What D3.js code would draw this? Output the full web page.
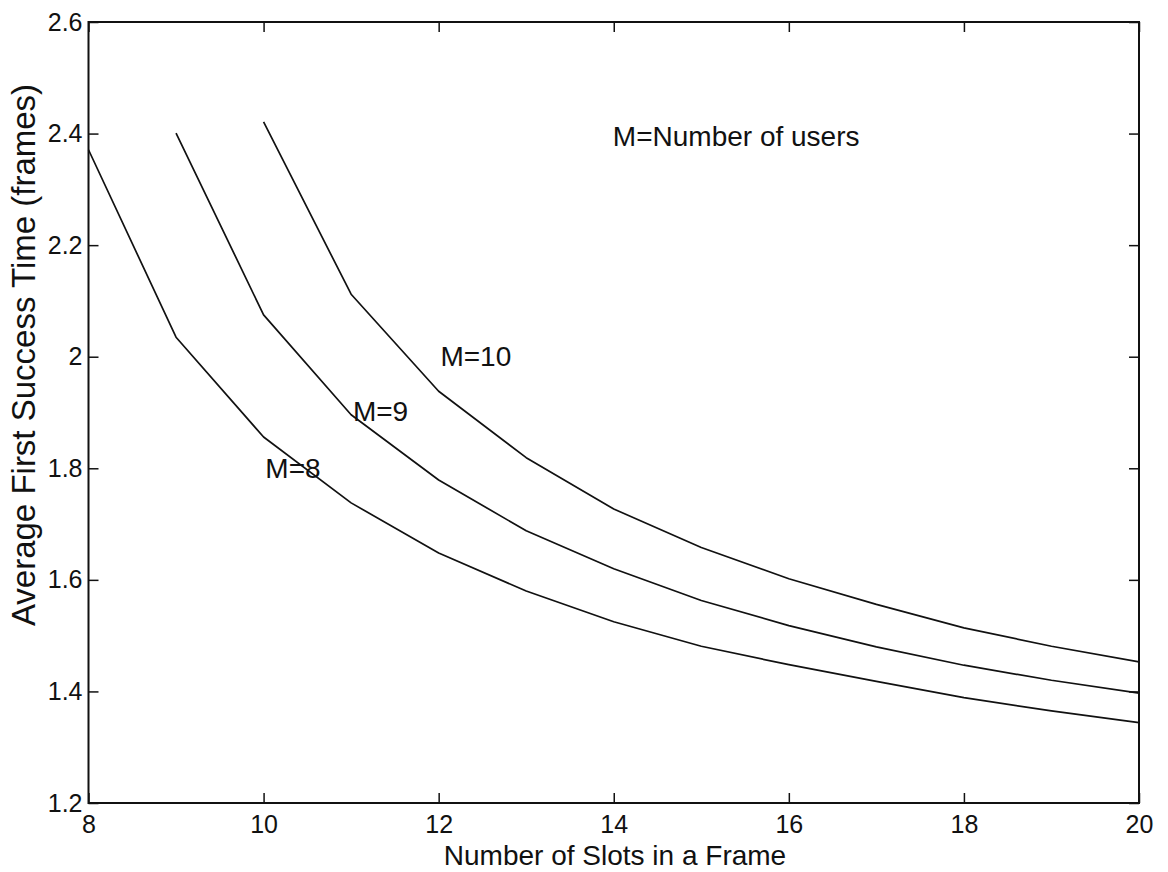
<!DOCTYPE html>
<html>
<head>
<meta charset="utf-8">
<script src="https://cdn.jsdelivr.net/npm/d3@7/dist/d3.min.js"></script>
<style>
  html, body { margin: 0; padding: 0; background: #fff; }
  svg { display: block; }
  text { font-family: "Liberation Sans", Arial, Helvetica, sans-serif; fill: #111; }
</style>
</head>
<body>
<svg id="chart" width="1168" height="872"></svg>
<script>
// Average first success time vs. number of slots, for M = 8, 9, 10 users
const slots = [8, 9, 10, 11, 12, 13, 14, 15, 16, 17, 18, 19, 20];
const timeM8  = [2.371, 2.035, 1.856, 1.738, 1.648, 1.580, 1.525, 1.481, 1.448, 1.418, 1.389, 1.365, 1.344];
const timeM9  = [2.401, 2.075, 1.896, 1.779, 1.688, 1.620, 1.563, 1.518, 1.480, 1.447, 1.420, 1.397];
const timeM10 = [2.421, 2.112, 1.938, 1.819, 1.727, 1.658, 1.602, 1.556, 1.514, 1.481, 1.453];
const seriesNames = ["M=8", "M=9", "M=10"];
const xTicks = [8, 10, 12, 14, 16, 18, 20];
const yTicks = [1.2, 1.4, 1.6, 1.8, 2, 2.2, 2.4, 2.6];
const xTitle = "Number of Slots in a Frame";
const yTitle = "Average First Success Time (frames)";
const note = "M=Number of users";

const svg = d3.select("#chart");
const plotL = 88.5, plotR = 1139, plotT = 22, plotB = 803;

const x = d3.scaleLinear().domain([8, 20]).range([plotL, plotR]);
const y = d3.scaleLinear().domain([1.2, 2.6]).range([plotB, plotT]);

// label anchors (data coordinates) for each curve
const series = [
  { name: seriesNames[0], xs: slots.slice(0), ys: timeM8,  labelAt: [10.02, 1.783] },
  { name: seriesNames[1], xs: slots.slice(1), ys: timeM9,  labelAt: [11.02, 1.884] },
  { name: seriesNames[2], xs: slots.slice(2), ys: timeM10, labelAt: [12.02, 1.983] }
];

const line = d3.line().x(d => x(d[0])).y(d => y(d[1]));

// curves
svg.append("g").selectAll("path").data(series).join("path")
  .attr("d", s => line(s.xs.map((v, i) => [v, s.ys[i]])))
  .attr("fill", "none")
  .attr("stroke", "#111")
  .attr("stroke-width", 1.7)
  .attr("stroke-linejoin", "round");

// axes with inward ticks on all four sides
const fmt = d => String(+d.toFixed(1));
const tickLen = 10;
const tickFont = 25;
const labelFont = 28;

const gB = svg.append("g").attr("transform", `translate(0,${plotB})`)
  .call(d3.axisBottom(x).tickValues(xTicks).tickSize(-tickLen).tickPadding(12).tickFormat(fmt));
const gT = svg.append("g").attr("transform", `translate(0,${plotT})`)
  .call(d3.axisTop(x).tickValues(xTicks).tickSize(-tickLen).tickFormat(""));
const gL = svg.append("g").attr("transform", `translate(${plotL},0)`)
  .call(d3.axisLeft(y).tickValues(yTicks).tickSize(-tickLen).tickPadding(6).tickFormat(fmt));
const gR = svg.append("g").attr("transform", `translate(${plotR},0)`)
  .call(d3.axisRight(y).tickValues(yTicks).tickSize(-tickLen).tickFormat(""));

[gB, gT, gL, gR].forEach(g => {
  g.select(".domain").remove();
  g.selectAll(".tick line").attr("stroke", "#111").attr("stroke-width", 1.5);
  g.selectAll(".tick text")
    .attr("font-family", "Liberation Sans, Arial, sans-serif")
    .attr("font-size", tickFont)
    .attr("fill", "#111");
});

// frame
svg.append("rect")
  .attr("x", plotL).attr("y", plotT)
  .attr("width", plotR - plotL).attr("height", plotB - plotT)
  .attr("fill", "none").attr("stroke", "#111").attr("stroke-width", 2);

// axis titles
svg.append("text")
  .attr("x", 615).attr("y", 865)
  .attr("text-anchor", "middle").attr("font-size", labelFont)
  .text(xTitle);
svg.append("text")
  .attr("transform", `translate(35,355) rotate(-90)`)
  .attr("text-anchor", "middle").attr("font-size", 33)
  .text(yTitle);

// series labels
svg.append("g").selectAll("text").data(series).join("text")
  .attr("x", s => x(s.labelAt[0]))
  .attr("y", s => y(s.labelAt[1]))
  .attr("font-size", labelFont)
  .text(s => s.name);

// annotation
svg.append("text")
  .attr("x", x(13.99)).attr("y", y(2.378))
  .attr("font-size", labelFont)
  .text(note);
</script>
</body>
</html>
